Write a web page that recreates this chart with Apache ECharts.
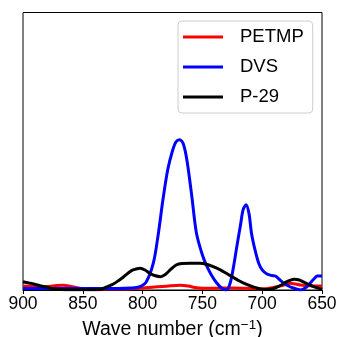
<!DOCTYPE html>
<html><head><meta charset="utf-8">
<script src="https://cdn.jsdelivr.net/npm/echarts@6/dist/echarts.min.js"></script>
<style>html,body{margin:0;padding:0;background:#fff}#c{width:339px;height:337px}</style>
</head><body><div id="c"></div>
<script>
const xTicks = [900, 850, 800, 750, 700, 650];
const seriesNames = ['PETMP', 'DVS', 'P-29'];
const petmp = [[900,4],[890,3.5],[880,3.5],[872,4.5],[866,4.7],[860,3.5],[850,1.3],[840,1],[820,1],[805,1.5],[799,2],[790,3],[780,3.8],[769,4.7],[762,4],[755,2.2],[750,1.7],[740,1.8],[724,2],[710,1.5],[699,1],[693,2],[688,3.3],[682,5],[677,6.7],[672,6],[668,5],[660,4.3],[650,4]];
const dvs = [[900,1.5],[880,1.5],[860,1.5],[840,1.5],[820,1.5],[810,2],[803,3],[797,8],[791,27],[787,55],[783,90],[779,120],[775,139],[772,148],[769,150],[766,146],[763,130],[759,95],[755,57],[750,35],[746,23],[742,14],[738,7],[734,2],[730,0],[727,6],[724,23],[721,45],[718,66],[716,80],[713.5,85],[711,76],[709,57],[706,40],[703,27],[700,20],[696,16],[692,14.5],[689,14],[686,11],[682,7],[678,4],[674,2],[670,0.5],[668,0],[664,2],[660,6.7],[656,12],[654,14],[650,14]];
const p29 = [[900,8.3],[895,7],[891,6],[885,4],[880,2.7],[875,1.2],[869,0.5],[860,0.3],[850,0.3],[840,0.3],[835,0.6],[830,3],[824.5,6],[820,9.5],[816,13],[812,17],[808,20],[802,21.7],[798,20],[794,16.7],[790,14.5],[785,13.3],[781,15.5],[777,20],[772,25],[767,26.5],[760,26.7],[752,26.7],[746,25.5],[741,23.3],[735,20],[730,16.7],[724,12.5],[719,9],[713,5.5],[707,2.7],[702,1.2],[696,0.5],[692,1],[688,2.7],[684,5],[681,7.3],[677,9.5],[673,10.7],[669,10],[666,8.3],[661,5.5],[657,3.3],[653,1.8],[650,0.7]];
const colors = ['#ff0000', '#0000ff', '#000000'];
const dataSets = [petmp, dvs, p29];

const chart = echarts.init(document.getElementById('c'));
const font = 'Liberation Sans, Arial, sans-serif';
chart.setOption({
  animation: false,
  textStyle: { fontFamily: font },
  grid: { left: 23, right: 17, top: 12.5, bottom: 47, show: true, borderColor: '#000', borderWidth: 1, backgroundColor: 'transparent', containLabel: false, outerBoundsMode: 'none' },
  legend: {
    orient: 'vertical', left: 178, top: 21,
    data: seriesNames,
    icon: 'rect', itemWidth: 40, itemHeight: 3, itemGap: 10,
    padding: [6, 9, 6, 5],
    borderColor: '#cccccc', borderWidth: 1, borderRadius: 4,
    backgroundColor: 'rgba(255,255,255,0.8)',
    textStyle: { fontFamily: font, fontSize: 18.5, color: '#000', lineHeight: 20, padding: [0, 0, 0, 12] }
  },
  xAxis: {
    type: 'value', inverse: true, min: 650, max: 900, interval: 50,
    name: 'Wave number (cm{sup|−1})', nameLocation: 'middle', nameGap: 28,
    nameTextStyle: { fontFamily: font, fontSize: 19.5, color: '#000', rich: { sup: { fontFamily: font, fontSize: 13.5, padding: [0, 0, 9, 0], color: '#000' } } },
    axisLine: { show: true, lineStyle: { color: '#000', width: 1 } },
    axisTick: { show: true, length: 4, lineStyle: { color: '#000' } },
    axisLabel: { fontFamily: font, fontSize: 17.5, color: '#000', margin: 5, formatter: v => xTicks.includes(v) ? String(v) : '' },
    splitLine: { show: false }
  },
  yAxis: {
    type: 'value', min: 0, max: 277,
    axisLine: { show: false }, axisTick: { show: false }, axisLabel: { show: false }, splitLine: { show: false }
  },
  series: seriesNames.map((n, i) => ({
    name: n, type: 'line', data: dataSets[i], smooth: 0.3, symbol: 'none',
    lineStyle: { color: colors[i], width: 3 }, itemStyle: { color: colors[i] }
  }))
});
</script></body></html>
